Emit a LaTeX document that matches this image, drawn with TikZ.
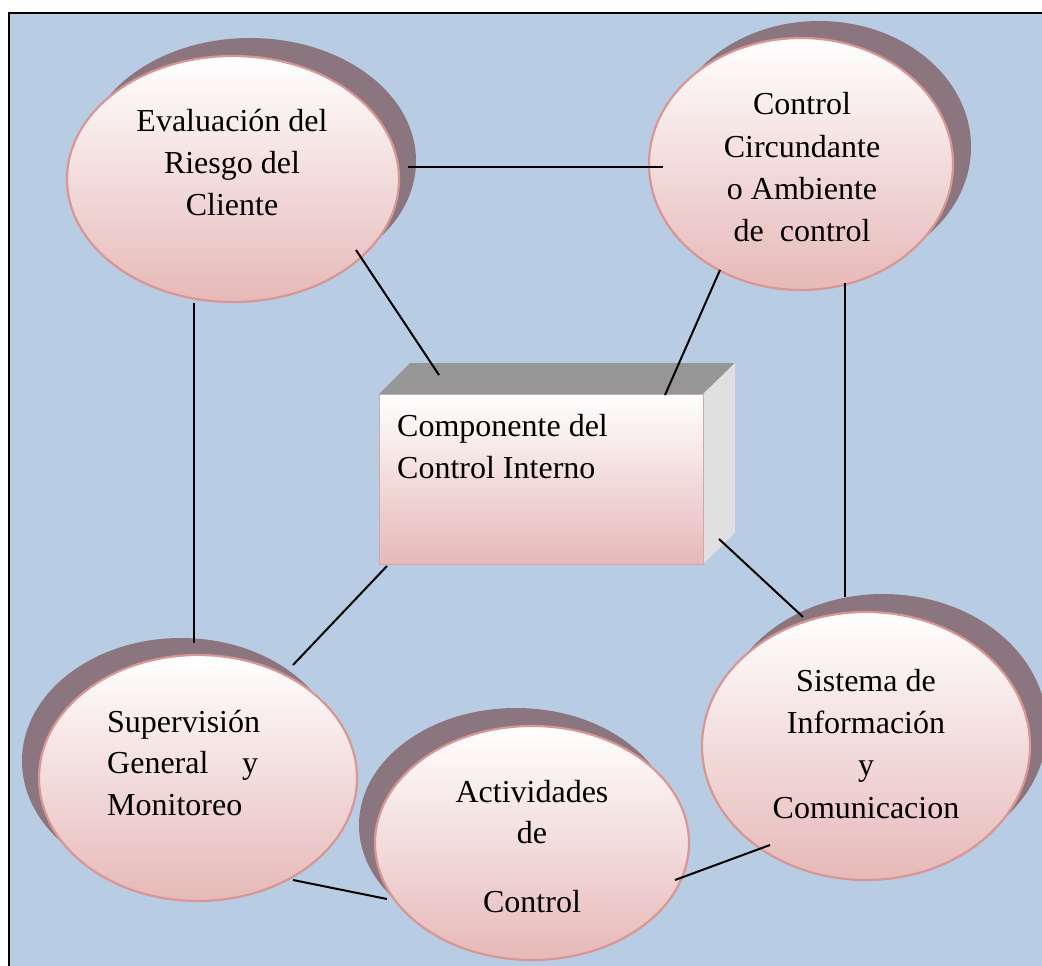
\documentclass[tikz,border=0pt]{standalone}
\usepackage{fontspec}
\setmainfont{Liberation Serif}
\usetikzlibrary{shapes.geometric}
\definecolor{bgblue}{RGB}{184,204,228}
\definecolor{shadecol}{RGB}{139,118,128}
\definecolor{pinkbot}{RGB}{230,185,184}
\definecolor{pinkedge}{RGB}{217,150,148}
\definecolor{boxtop}{RGB}{150,150,150}
\definecolor{boxside}{RGB}{224,224,224}
\definecolor{boxedge}{RGB}{205,170,170}

\begin{document}
\begin{tikzpicture}[x=1pt,y=-1pt,
  bubble/.style={ellipse, inner sep=0pt, top color=white, bottom color=pinkbot,
                 draw=pinkedge, line width=2.2pt},
  bubshadow/.style={fill=shadecol},
  lbl/.style={inner sep=0pt, anchor=base, font=\fontsize{32}{38}\selectfont},
  lbll/.style={lbl, anchor=base west},
  link/.style={line width=2pt}]

% page area and framed panel
\useasboundingbox (0,0) rectangle (1042,966);
\clip (0,0) rectangle (1042,966);
\draw[line width=1.8pt, fill=bgblue] (9,13) rectangle (1070,1000);

% shadows behind the bubbles
\fill[bubshadow] (250,161) ellipse [x radius=166, y radius=123];
\fill[bubshadow] (819,147) ellipse [x radius=152, y radius=126];
\fill[bubshadow] (883,728) ellipse [x radius=164, y radius=134];
\fill[bubshadow] (181,761) ellipse [x radius=159, y radius=123];
\fill[bubshadow] (516,825) ellipse [x radius=157, y radius=117];

% bubbles
\node[bubble, minimum width=332pt, minimum height=246pt] (ev) at (233,179) {};
\node[bubble, minimum width=304pt, minimum height=252pt] (ca) at (801,164) {};
\node[bubble, minimum width=328pt, minimum height=268pt] (si) at (866,746) {};
\node[bubble, minimum width=318pt, minimum height=246pt] (su) at (198,778) {};
\node[bubble, minimum width=314pt, minimum height=234pt] (ac) at (532,843) {};

% central block with its top and side faces
\fill[boxtop] (379,394) -- (410,363) -- (735,363) -- (703,394) -- cycle;
\fill[boxside] (703,394) -- (735,363) -- (735,533) -- (703,564) -- cycle;
\node[rectangle, inner sep=0pt, minimum width=324pt, minimum height=170pt,
      top color=white, bottom color=pinkbot, draw=boxedge, line width=0.8pt]
      (cb) at (541,479) {};

% labels
\node[lbl] (ev1) at (232,131) {Evaluación del};
\node[lbl] (ev2) at (232,173) {Riesgo del};
\node[lbl] (ev3) at (232,215) {Cliente};

\node[lbl] (ca1) at (802,114) {Control};
\node[lbl] (ca2) at (802,157) {Circundante};
\node[lbl] (ca3) at (802,199) {o Ambiente};
\node[lbl] (ca4) at (802,241) {de\ \ control};

\node[lbl] (si1) at (866,691) {Sistema de};
\node[lbl] (si2) at (866,733) {Información};
\node[lbl] (si3) at (866,775) {y};
\node[lbl] (si4) at (866,818) {Comunicacion};

\node[lbll] (su1) at (107,732) {Supervisión};
\node[lbll] (su2) at (107,773) {\makebox[151pt][s]{General y}};
\node[lbll] (su3) at (107,815) {Monitoreo};

\node[lbl] (ac1) at (532,802) {Actividades};
\node[lbl] (ac2) at (532,843) {de};
\node[lbl] (ac3) at (532,912) {Control};

\node[lbll] (cb1) at (397,436) {Componente del};
\node[lbll] (cb2) at (397,478) {Control Interno};

% connector end points
\coordinate (ev-e) at (408,167);
\coordinate (ca-w) at (663,167);
\coordinate (ev-se) at (356,250);
\coordinate (cb-nw) at (439,375);
\coordinate (ca-sw) at (720,270);
\coordinate (cb-ne) at (665,395);
\coordinate (ev-s) at (194,303);
\coordinate (su-n) at (194,643);
\coordinate (ca-s) at (845,283);
\coordinate (si-n) at (845,597);
\coordinate (cb-sw) at (387,566);
\coordinate (su-ne) at (293,665);
\coordinate (cb-se) at (719,539);
\coordinate (si-nw) at (803,617);
\coordinate (su-se) at (293,880);
\coordinate (ac-w) at (387,899);
\coordinate (ac-e) at (675,880);
\coordinate (si-sw) at (770,845);

% connectors
\draw[link] (ev-e) -- (ca-w);
\draw[link] (ev-se) -- (cb-nw);
\draw[link] (ca-sw) -- (cb-ne);
\draw[link] (ev-s) -- (su-n);
\draw[link] (ca-s) -- (si-n);
\draw[link] (cb-sw) -- (su-ne);
\draw[link] (cb-se) -- (si-nw);
\draw[link] (su-se) -- (ac-w);
\draw[link] (ac-e) -- (si-sw);
\end{tikzpicture}
\end{document}
